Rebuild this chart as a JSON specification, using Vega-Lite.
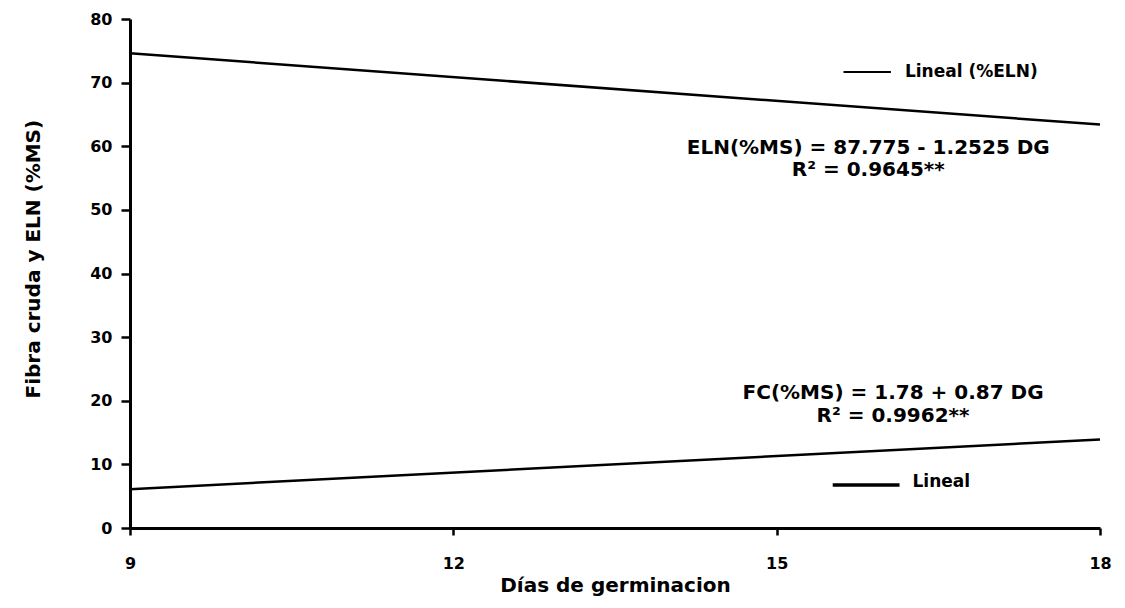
{
  "$schema": "https://vega.github.io/schema/vega-lite/v6.json",
  "width": 970,
  "height": 509,
  "autosize": "none",
  "padding": {"left": 130, "top": 19, "right": 25, "bottom": 80},
  "background": "white",
  "config": {
    "font": "DejaVu Sans",
    "view": {"stroke": null},
    "axis": {
      "grid": false,
      "domainColor": "black",
      "tickColor": "black",
      "labelColor": "black",
      "titleColor": "black",
      "domainWidth": 3,
      "tickWidth": 2.5,
      "labelFont": "DejaVu Sans",
      "titleFont": "DejaVu Sans",
      "labelFontWeight": "bold",
      "titleFontWeight": "bold",
      "labelFontSize": 16,
      "titleFontSize": 20,
      "labelFlush": false
    }
  },
  "datasets": {
    "lineas": [
      {"dias": 9, "valor": 74.6, "serie": "ELN"},
      {"dias": 18, "valor": 63.4, "serie": "ELN"},
      {"dias": 9, "valor": 6.1, "serie": "FC"},
      {"dias": 18, "valor": 13.9, "serie": "FC"}
    ],
    "ecuaciones": [
      {"dias": 15.85, "valor": 59.7, "texto": "ELN(%MS) = 87.775 - 1.2525 DG"},
      {"dias": 15.85, "valor": 56.3, "texto": "R² = 0.9645**"},
      {"dias": 16.08, "valor": 21.2, "texto": "FC(%MS) = 1.78 + 0.87 DG"},
      {"dias": 16.08, "valor": 17.6, "texto": "R² = 0.9962**"}
    ],
    "leyenda": [
      {"desde": 15.62, "hasta": 16.06, "valor": 71.67, "texto_x": 16.19, "texto_y": 71.67, "texto": "Lineal (%ELN)", "serie": "ELN"},
      {"desde": 15.52, "hasta": 16.14, "valor": 6.76, "texto_x": 16.26, "texto_y": 7.3, "texto": "Lineal", "serie": "FC"}
    ]
  },
  "layer": [
    {
      "data": {"name": "lineas"},
      "mark": {"type": "line", "color": "black", "strokeWidth": 2.5},
      "encoding": {
        "x": {
          "field": "dias",
          "type": "quantitative",
          "scale": {"domain": [9, 18], "nice": false, "zero": false},
          "axis": {
            "title": "Días de germinacion",
            "values": [9, 12, 15, 18],
            "format": "d",
            "tickSize": 7,
            "labelPadding": 20,
            "titleY": 57,
            "titleBaseline": "middle"
          }
        },
        "y": {
          "field": "valor",
          "type": "quantitative",
          "scale": {"domain": [0, 80], "nice": false},
          "axis": {
            "title": "Fibra cruda y ELN (%MS)",
            "values": [0, 10, 20, 30, 40, 50, 60, 70, 80],
            "format": "d",
            "tickSize": 9,
            "labelPadding": 9,
            "titleAngle": -90,
            "titleX": -97,
            "titleY": 379,
            "titleAlign": "left",
            "titleBaseline": "middle"
          }
        },
        "detail": {"field": "serie"}
      }
    },
    {
      "data": {"name": "leyenda"},
      "transform": [{"filter": "datum.serie == 'ELN'"}],
      "mark": {"type": "rule", "color": "black", "strokeWidth": 2},
      "encoding": {
        "x": {"field": "desde", "type": "quantitative"},
        "x2": {"field": "hasta"},
        "y": {"field": "valor", "type": "quantitative"}
      }
    },
    {
      "data": {"name": "leyenda"},
      "transform": [{"filter": "datum.serie == 'FC'"}],
      "mark": {"type": "rule", "color": "black", "strokeWidth": 3.5},
      "encoding": {
        "x": {"field": "desde", "type": "quantitative"},
        "x2": {"field": "hasta"},
        "y": {"field": "valor", "type": "quantitative"}
      }
    },
    {
      "data": {"name": "leyenda"},
      "mark": {"type": "text", "align": "left", "baseline": "middle", "fontSize": 17, "fontWeight": "bold", "color": "black"},
      "encoding": {
        "x": {"field": "texto_x", "type": "quantitative"},
        "y": {"field": "texto_y", "type": "quantitative"},
        "text": {"field": "texto"}
      }
    },
    {
      "data": {"name": "ecuaciones"},
      "mark": {"type": "text", "align": "center", "baseline": "middle", "fontSize": 20, "fontWeight": "bold", "color": "black"},
      "encoding": {
        "x": {"field": "dias", "type": "quantitative"},
        "y": {"field": "valor", "type": "quantitative"},
        "text": {"field": "texto"}
      }
    }
  ]
}
